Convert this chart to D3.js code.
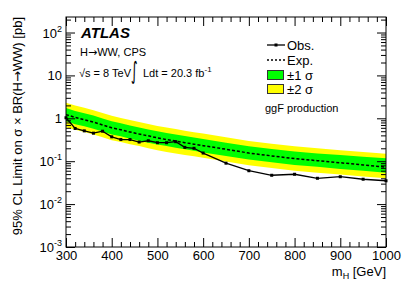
<!DOCTYPE html>
<html>
<head>
<meta charset="utf-8">
<script src="https://cdn.jsdelivr.net/npm/d3@7"></script>
<style>
  body { margin: 0; background: #fff; }
  svg { font-family: "Liberation Sans", Arial, sans-serif; }
  .arr { font-family: "DejaVu Sans", sans-serif; }
</style>
</head>
<body>
<svg id="chart" width="407" height="295"></svg>
<script>
// Higgs mass points [GeV]
const masses = [300, 320, 340, 360, 380, 400, 420, 440, 460, 480, 500, 520, 540, 560, 580, 600, 650, 700, 750, 800, 850, 900, 950, 1000];
// observed limit [pb]
const observed = [1.03, 0.58, 0.51, 0.45, 0.50, 0.37, 0.32, 0.32, 0.28, 0.30, 0.27, 0.27, 0.285, 0.21, 0.20, 0.155, 0.09, 0.06, 0.047, 0.0496, 0.040, 0.0435, 0.038, 0.035];
// expected limit and bands [pb]
const expected = [1.22, 1.05, 0.93, 0.82, 0.70, 0.60, 0.54, 0.48, 0.43, 0.39, 0.35, 0.32, 0.295, 0.27, 0.25, 0.23, 0.19, 0.155, 0.133, 0.115, 0.103, 0.092, 0.082, 0.073];
const plus1 = [1.73, 1.49, 1.32, 1.16, 0.99, 0.85, 0.77, 0.68, 0.61, 0.55, 0.50, 0.455, 0.42, 0.385, 0.355, 0.33, 0.27, 0.222, 0.192, 0.168, 0.152, 0.139, 0.127, 0.117];
const minus1 = [0.85, 0.73, 0.65, 0.57, 0.49, 0.42, 0.38, 0.335, 0.30, 0.27, 0.245, 0.225, 0.205, 0.19, 0.175, 0.16, 0.133, 0.109, 0.094, 0.082, 0.074, 0.066, 0.06, 0.054];
const plus2 = [2.3, 1.99, 1.76, 1.55, 1.33, 1.14, 1.02, 0.91, 0.82, 0.74, 0.665, 0.61, 0.56, 0.515, 0.475, 0.44, 0.36, 0.295, 0.255, 0.222, 0.2, 0.18, 0.163, 0.15];
const minus2 = [0.62, 0.54, 0.48, 0.42, 0.36, 0.31, 0.28, 0.25, 0.225, 0.2, 0.18, 0.165, 0.152, 0.14, 0.13, 0.12, 0.098, 0.08, 0.069, 0.06, 0.054, 0.049, 0.044, 0.04];

const xTicks = [300, 400, 500, 600, 700, 800, 900, 1000];
const yTickExp = [-3, -2, -1, 0, 1, 2];

const svg = d3.select("#chart");
const pL = 66, pR = 386, pT = 17, pB = 247;

const x = d3.scaleLinear().domain([300, 1000]).range([pL, pR]);
const y = d3.scaleLog().domain([1e-3, 230]).range([pB, pT]);

const rows = masses.map((m, i) => ({
  m: m, obs: observed[i], exp: expected[i],
  p1: plus1[i], m1: minus1[i], p2: plus2[i], m2: minus2[i]
}));

// bands
const band = (lo, hi) => d3.area()
  .x(d => x(d.m))
  .y0(d => y(d[lo]))
  .y1(d => y(d[hi]));

svg.append("path").datum(rows).attr("d", band("m2", "p2")).attr("fill", "#ffff00");
svg.append("path").datum(rows).attr("d", band("m1", "p1")).attr("fill", "#00ff00");

// expected
svg.append("path").datum(rows)
  .attr("d", d3.line().x(d => x(d.m)).y(d => y(d.exp)))
  .attr("fill", "none").attr("stroke", "#000").attr("stroke-width", 1.5)
  .attr("stroke-dasharray", "3,2");

// observed
svg.append("path").datum(rows)
  .attr("d", d3.line().x(d => x(d.m)).y(d => y(d.obs)))
  .attr("fill", "none").attr("stroke", "#000").attr("stroke-width", 1.3);
svg.selectAll("rect.pt").data(rows).enter().append("rect")
  .attr("class", "pt")
  .attr("x", d => x(d.m) - 1.5).attr("y", d => y(d.obs) - 1.5)
  .attr("width", 3).attr("height", 3).attr("fill", "#000");

// axes (ticks inward on all sides)
const xMinor = d3.range(300, 1001, 20).filter(v => v % 100 !== 0);
const yMajor = yTickExp.map(e => Math.pow(10, e));
const yMinor = [];
yTickExp.forEach(e => { for (let k = 2; k <= 9; k++) { const v = k * Math.pow(10, e); if (v <= 230) yMinor.push(v); } });

function axisGroup(axis, tx, ty) {
  const g = svg.append("g").attr("transform", `translate(${tx},${ty})`).call(axis);
  g.select(".domain").remove();
  g.selectAll("line").attr("stroke", "#000");
  return g;
}

const xb = axisGroup(d3.axisBottom(x).tickValues(xTicks).tickSize(-9).tickPadding(4).tickFormat(d3.format("d")), 0, pB);
xb.selectAll("text").attr("font-size", 13).attr("fill", "#000").style("font-family", "Liberation Sans, Arial, sans-serif");
axisGroup(d3.axisBottom(x).tickValues(xMinor).tickSize(-5).tickFormat(""), 0, pB);
axisGroup(d3.axisTop(x).tickValues(xTicks).tickSize(-9).tickFormat(""), 0, pT);
axisGroup(d3.axisTop(x).tickValues(xMinor).tickSize(-5).tickFormat(""), 0, pT);

axisGroup(d3.axisLeft(y).tickValues(yMajor).tickSize(-9).tickFormat(""), pL, 0);
axisGroup(d3.axisLeft(y).tickValues(yMinor).tickSize(-5).tickFormat(""), pL, 0);
axisGroup(d3.axisRight(y).tickValues(yMajor).tickSize(-9).tickFormat(""), pR, 0);
axisGroup(d3.axisRight(y).tickValues(yMinor).tickSize(-5).tickFormat(""), pR, 0);

// y tick labels with superscripts
yTickExp.forEach(e => {
  const t = svg.append("text")
    .attr("x", pL - 4).attr("y", y(Math.pow(10, e)) + 5)
    .attr("text-anchor", "end").attr("font-size", 13);
  if (e === 0) t.text("1");
  else if (e === 1) t.text("10");
  else {
    t.append("tspan").text("10");
    t.append("tspan").attr("font-size", 9).attr("dy", -6).text(e);
  }
});

// frame
svg.append("rect")
  .attr("x", pL).attr("y", pT)
  .attr("width", pR - pL).attr("height", pB - pT)
  .attr("fill", "none").attr("stroke", "#000").attr("stroke-width", 1);

// axis titles
const xt = svg.append("text").attr("x", pR).attr("y", 276)
  .attr("text-anchor", "end").attr("font-size", 13);
xt.append("tspan").text("m");
xt.append("tspan").attr("font-size", 9).attr("dy", 3).text("H");
xt.append("tspan").attr("dy", -3).text(" [GeV]");

const yt = svg.append("text")
  .attr("transform", `translate(22,${pT}) rotate(-90)`)
  .attr("text-anchor", "end").attr("font-size", 13);
yt.append("tspan").text("95% CL Limit on σ × BR(H");
yt.append("tspan").attr("class", "arr").text("→");
yt.append("tspan").text("WW) [pb]");

// labels
svg.append("text").attr("x", 81).attr("y", 38)
  .attr("font-size", 15).attr("font-weight", "bold").attr("font-style", "italic")
  .text("ATLAS");
const hw = svg.append("text").attr("x", 80).attr("y", 56).attr("font-size", 11);
hw.append("tspan").text("H");
hw.append("tspan").attr("class", "arr").text("→");
hw.append("tspan").text("WW, CPS");

const lumi = svg.append("g").attr("font-size", 11);
lumi.append("text").attr("x", 79).attr("y", 77).text("√s = 8 TeV");
lumi.append("text").attr("transform", "translate(131,79) scale(0.8,1.5)")
  .attr("font-size", 16).attr("class", "arr").text("∫");
const lt = lumi.append("text").attr("x", 143).attr("y", 77);
lt.append("tspan").text("Ldt = 20.3 fb");
lt.append("tspan").attr("font-size", 8).attr("dy", -5).text("-1");

// legend
const lg = svg.append("g").attr("font-size", 13);
lg.append("line").attr("x1", 267).attr("x2", 285).attr("y1", 45).attr("y2", 45)
  .attr("stroke", "#000").attr("stroke-width", 1.3);
lg.append("rect").attr("x", 274.5).attr("y", 43.5).attr("width", 3).attr("height", 3).attr("fill", "#000");
lg.append("text").attr("x", 287).attr("y", 50).text("Obs.");
lg.append("line").attr("x1", 267).attr("x2", 285).attr("y1", 60).attr("y2", 60)
  .attr("stroke", "#000").attr("stroke-width", 1.3).attr("stroke-dasharray", "2,2");
lg.append("text").attr("x", 287).attr("y", 65).text("Exp.");
lg.append("rect").attr("x", 267.5).attr("y", 70.5).attr("width", 16).attr("height", 9)
  .attr("fill", "#00ff00").attr("stroke", "#333");
lg.append("text").attr("x", 287).attr("y", 80).text("±1 σ");
lg.append("rect").attr("x", 267.5).attr("y", 84.5).attr("width", 16).attr("height", 9)
  .attr("fill", "#ffff00").attr("stroke", "#333");
lg.append("text").attr("x", 287).attr("y", 94).text("±2 σ");
svg.append("text").attr("x", 265).attr("y", 112).attr("font-size", 11).text("ggF production");
</script>
</body>
</html>
